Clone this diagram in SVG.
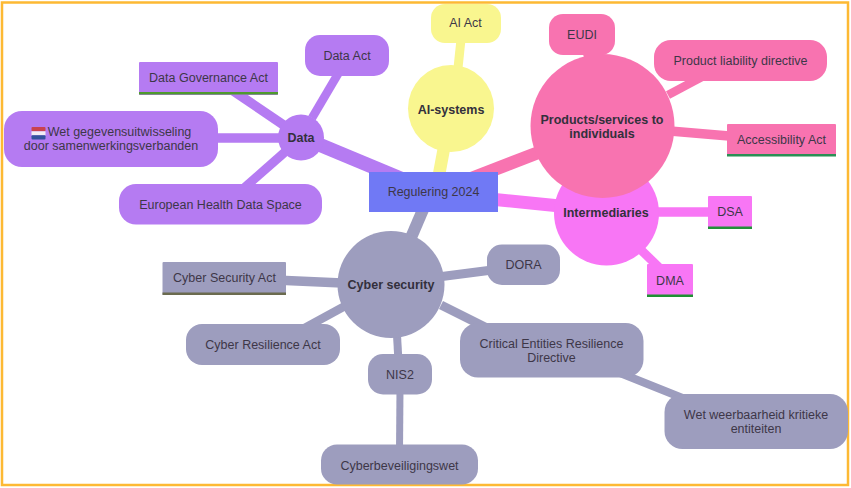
<svg xmlns="http://www.w3.org/2000/svg" width="851" height="488" viewBox="0 0 851 488">
<style>
text{font-family:"Liberation Sans",Arial,sans-serif;font-size:12.5px;fill:#3d3748;text-anchor:middle;dominant-baseline:central}
.b{font-weight:700;fill:#33303c}
.data{fill:#b57bf2}.ai{fill:#f9f68f}.prod{fill:#f873b0}.inter{fill:#f876f5}.cyber{fill:#9d9dbe}.root{fill:#7079f5}
line{stroke-linecap:butt;fill:none}
.ld{stroke:#b57bf2}.la{stroke:#f9f68f}.lp{stroke:#f873b0}.li{stroke:#f876f5}.lc{stroke:#9d9dbe}
</style>
<rect width="851" height="488" fill="#fff"/>
<rect x="2" y="2.500" width="846" height="482.500" fill="none" stroke="#fdb933" stroke-width="2.500"/>
<g id="connectors">
<line class="ld" x1="301" y1="137" x2="433" y2="192" stroke-width="14"/>
<line class="la" x1="438" y1="180" x2="452" y2="105" stroke-width="12.500"/>
<line class="lp" x1="462" y1="182" x2="545" y2="150" stroke-width="13"/>
<line class="li" x1="490" y1="199" x2="565" y2="206.500" stroke-width="13"/>
<line class="lc" x1="425" y1="205" x2="410" y2="240" stroke-width="12"/>
<line class="ld" x1="226" y1="86" x2="285" y2="126" stroke-width="9.500"/>
<line class="ld" x1="200" y1="138" x2="285" y2="138" stroke-width="9.500"/>
<line class="ld" x1="235" y1="196" x2="285" y2="152" stroke-width="9"/>
<line class="ld" x1="312" y1="118" x2="348" y2="57" stroke-width="8.500"/>
<line class="la" x1="458" y1="68" x2="462" y2="30" stroke-width="9"/>
<line class="lp" x1="585" y1="45" x2="590" y2="62" stroke-width="9"/>
<line class="lp" x1="668" y1="95" x2="715" y2="70" stroke-width="8.500"/>
<line class="lp" x1="670" y1="131" x2="735" y2="136.500" stroke-width="9.500"/>
<line class="li" x1="655" y1="212" x2="715" y2="212" stroke-width="9.500"/>
<line class="li" x1="640" y1="249" x2="672" y2="280" stroke-width="9"/>
<line class="lc" x1="438" y1="277" x2="500" y2="269" stroke-width="9"/>
<line class="lc" x1="275" y1="280" x2="342" y2="283" stroke-width="9.500"/>
<line class="lc" x1="290" y1="336" x2="345" y2="306" stroke-width="8.500"/>
<line class="lc" x1="397" y1="335" x2="398.500" y2="362" stroke-width="8"/>
<line class="lc" x1="400" y1="388" x2="399.500" y2="452" stroke-width="7"/>
<line class="lc" x1="441" y1="305" x2="505" y2="337" stroke-width="9"/>
<line class="lc" x1="610" y1="369" x2="700" y2="405" stroke-width="8"/>
</g>
<g id="root"><rect class="root" x="369" y="172" width="129" height="40"/><text x="433.500" y="192">Regulering 2024</text></g>
<g id="data"><circle class="data" cx="301" cy="137.500" r="23"/><text class="b" x="301" y="137.500">Data</text></g>
<g id="data-act"><rect class="data" x="305" y="35" width="84" height="41" rx="15"/><text x="347" y="55.500">Data Act</text></g>
<g id="dga"><rect class="data" x="139" y="62" width="139" height="33" rx="1"/><rect x="139" y="92" width="139" height="2.500" fill="#4f9a2e"/><text x="208.500" y="78">Data Governance Act</text></g>
<g id="wet-gegevens"><rect class="data" x="4" y="111" width="214" height="56" rx="18"/>
<g id="nl-flag"><rect x="31.500" y="127" width="14" height="4.300" rx="1" fill="#c9424f"/><rect x="31.500" y="131.300" width="14" height="4" fill="#f2ecf4"/><rect x="31.500" y="135.300" width="14" height="4.300" rx="1" fill="#33529c"/></g>
<text x="119.500" y="132">Wet gegevensuitwisseling</text><text x="111" y="146">door samenwerkingsverbanden</text></g>
<g id="ehds"><rect class="data" x="119" y="184" width="203" height="40.500" rx="17"/><text x="220.500" y="204.500">European Health Data Space</text></g>
<g id="ai-systems"><ellipse class="ai" cx="451" cy="108.500" rx="43" ry="43.500"/><text class="b" x="451" y="109.500">AI-systems</text></g>
<g id="ai-act"><rect class="ai" x="431" y="4" width="70" height="39" rx="14"/><text x="465.500" y="22.500">AI Act</text></g>
<g id="intermediaries"><circle class="inter" cx="606.500" cy="213" r="52.500"/><text class="b" x="606" y="212.500">Intermediaries</text></g>
<g id="products"><circle class="prod" cx="602.500" cy="126" r="72"/><text class="b" x="602" y="119.500">Products/services to</text><text class="b" x="602" y="134">individuals</text></g>
<g id="eudi"><rect class="prod" x="549" y="14" width="66" height="41" rx="14"/><text x="582" y="35">EUDI</text></g>
<g id="pld"><rect class="prod" x="654" y="40" width="173" height="41" rx="17"/><text x="740.500" y="61">Product liability directive</text></g>
<g id="accessibility"><rect class="prod" x="727" y="124" width="109" height="32" rx="1"/><rect x="727" y="154" width="109" height="2.500" fill="#2b8f55"/><text x="781.500" y="140">Accessibility Act</text></g>
<g id="dsa"><rect class="inter" x="708" y="196" width="44" height="33" rx="1"/><rect x="708" y="226.500" width="44" height="2.500" fill="#22903a"/><text x="730" y="211.500">DSA</text></g>
<g id="dma"><rect class="inter" x="647" y="264" width="46" height="33" rx="1"/><rect x="647" y="294.500" width="46" height="2.500" fill="#1f9033"/><text x="670" y="281">DMA</text></g>
<g id="cyber"><circle class="cyber" cx="391" cy="284.500" r="53.500"/><text class="b" x="391" y="285">Cyber security</text></g>
<g id="dora"><rect class="cyber" x="487" y="244.500" width="73" height="40.500" rx="15"/><text x="523.500" y="265">DORA</text></g>
<g id="csa"><rect class="cyber" x="162.500" y="262" width="123.500" height="33" rx="1"/><rect x="162.500" y="292.500" width="123.500" height="2.500" fill="#6b6b4f"/><text x="224.500" y="278">Cyber Security Act</text></g>
<g id="cra"><rect class="cyber" x="186" y="324" width="154" height="41" rx="16"/><text x="263" y="345">Cyber Resilience Act</text></g>
<g id="nis2"><rect class="cyber" x="368" y="354" width="64" height="40.500" rx="15"/><text x="400" y="375">NIS2</text></g>
<g id="cyberbev"><rect class="cyber" x="321" y="444.500" width="157" height="40" rx="16"/><text x="399.500" y="466">Cyberbeveiligingswet</text></g>
<g id="cer"><rect class="cyber" x="460" y="323" width="183.500" height="54.500" rx="18"/><text x="551.500" y="343.500">Critical Entities Resilience</text><text x="551.500" y="358">Directive</text></g>
<g id="wet-weerbaarheid"><rect class="cyber" x="664.500" y="394" width="183.500" height="55" rx="18"/><text x="756" y="414.500">Wet weerbaarheid kritieke</text><text x="756" y="429">entiteiten</text></g>
</svg>
